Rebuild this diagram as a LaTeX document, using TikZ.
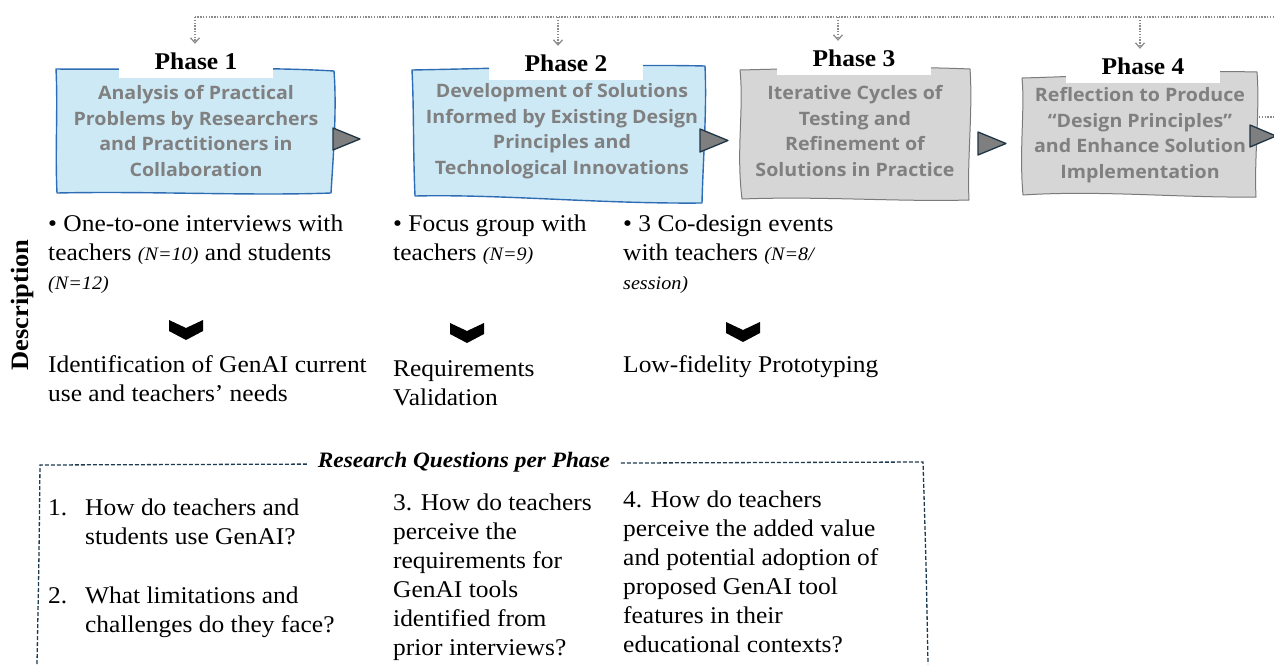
\documentclass[tikz,border=0pt]{standalone}
\usepackage{fontspec}
\setmainfont{Liberation Serif}[FakeStretch=1.06]
\newfontfamily\boxfont{Open Sans}[FakeStretch=1.06]
\usetikzlibrary{arrows.meta}
\definecolor{bluefill}{HTML}{CDE9F6}
\definecolor{blueedge}{HTML}{2E6DB4}
\definecolor{grayfill}{HTML}{D6D6D6}
\definecolor{grayedge}{HTML}{7A7A7A}
\definecolor{boxtext}{HTML}{808080}
\definecolor{trifill}{HTML}{7F7F7F}
\definecolor{triedge}{HTML}{1E3545}
\definecolor{dashcol}{HTML}{1F3B4D}
\definecolor{dotcol}{HTML}{8C8C8C}
\tikzset{
  bluebox/.style={fill=bluefill, draw=blueedge, line width=1.4pt, line join=round},
  graybox/.style={fill=grayfill, draw=grayedge, line width=1pt, line join=round},
  boxtxt/.style={font=\boxfont\bfseries\fontsize{18.5}{25.5}\selectfont, text=boxtext, align=center, inner sep=0pt},
  phaselbl/.style={fill=white, minimum width=154pt, minimum height=34pt, inner sep=0pt, font=\bfseries\fontsize{24}{26}\selectfont},
  desc/.style={font=\fontsize{24}{29}\selectfont, align=left, anchor=base west, inner sep=0pt},
  tri/.style={fill=trifill, draw=triedge, line width=1.3pt, line join=round},
  chev/.style={fill=black},
  dotline/.style={draw=dotcol, line width=1.6pt, dash pattern=on 1.4pt off 1.4pt},
  dotarrow/.style={dotline, -{Straight Barb[length=5pt,width=9pt,line width=1.3pt]}},
  dashbox/.style={draw=dashcol, line width=1.3pt, dash pattern=on 4pt off 2pt},
}
\newcommand\smallit[1]{{\itshape\fontsize{19}{29}\selectfont #1}}
\begin{document}
\begin{tikzpicture}[x=1pt,y=-1pt]
\useasboundingbox (0,0) rectangle (1274,664);

% ---- phase boxes ----
\draw[bluebox] (56,69) .. controls (140,70) and (250,66) .. (334,71) .. controls (337,110) and (333,160) .. (331,193) .. controls (250,196) and (150,191) .. (57,193) .. controls (55,150) and (58,110) .. (56,69) -- cycle;
\draw[bluebox] (412,70) .. controls (520,68) and (620,64) .. (705,66) .. controls (707,110) and (703,160) .. (702,203) .. controls (600,204) and (500,194) .. (415,196) .. controls (413,150) and (414,110) .. (412,70) -- cycle;
\draw[graybox] (740,70) .. controls (820,68) and (900,66) .. (970,69) .. controls (973,110) and (967,160) .. (969,200) .. controls (900,202) and (820,196) .. (742,199) .. controls (736,150) and (744,110) .. (740,70) -- cycle;
\draw[graybox] (1022,78) .. controls (1100,76) and (1180,70) .. (1257,72) .. controls (1260,110) and (1254,160) .. (1256,197) .. controls (1180,198) and (1100,190) .. (1023,195) .. controls (1019,150) and (1025,110) .. (1022,78) -- cycle;

% ---- arrow triangles between boxes ----
\draw[tri] (333,128) -- (360,139) -- (333,150) -- cycle;
\draw[tri] (700,129) -- (728,140.5) -- (700,152) -- cycle;
\draw[tri] (978,132) -- (1006,143.5) -- (978,155) -- cycle;
\draw[tri] (1250,125) -- (1276,136) -- (1250,147) -- cycle;
\draw[dotcol, line width=1.4pt, dash pattern=on 1.4pt off 1.4pt] (1259,117) -- (1274,117);

% ---- phase labels ----
\node[phaselbl] (p1) at (196,61) {Phase 1};
\node[phaselbl] (p2) at (566,63) {Phase 2};
\node[phaselbl] (p3) at (854,58) {Phase 3};
\node[phaselbl] (p4) at (1143,66) {Phase 4};

% ---- box texts ----
\node[boxtxt] (b1) at (196,131) {Analysis of Practical\\Problems by Researchers\\and Practitioners in\\Collaboration};
\node[boxtxt] (b2) at (562,131) {Development of Solutions\\Informed by Existing Design\\Principles and\\Technological Innovations};
\node[boxtxt] (b3) at (855,131) {Iterative Cycles of\\Testing and\\Refinement of\\Solutions in Practice};
\node[boxtxt] (b4) at (1140,135) {Reflection to Produce\\\char"201C Design Principles\char"201D\\and Enhance Solution\\Implementation};

% ---- top dotted feedback line ----
\coordinate (t1) at (195,17);
\coordinate (t2) at (558,17);
\coordinate (t3) at (838,17);
\coordinate (t4) at (1140,17);
\coordinate (tend) at (1274,17);
\draw[dotline] (tend) -- (t1);
\draw[dotarrow] (t1) -- (t1 |- p1.north);
\draw[dotarrow] (t2) -- (t2 |- p2.north);
\draw[dotarrow] (t3) -- (t3 |- p3.north);
\draw[dotarrow] (t4) -- (t4 |- p4.north);

% ---- description ----
\node[rotate=90, font=\bfseries\fontsize{25}{27}\selectfont, inner sep=0pt] (dlabel) at (22,305) {Description};

% (multi-line nodes are placed at the baseline of their last line)
\node[desc] (d1) at (48,289) {\textbullet{} One-to-one interviews with\\teachers \smallit{(N=10)} and students\\\smallit{(N=12)}};
\node[desc] (d2) at (393,260) {\textbullet{} Focus group with\\teachers \smallit{(N=9)}};
\node[desc] (d3) at (623,289) {\textbullet{} 3 Co-design events\\with teachers \smallit{(N=8/}\\\smallit{session)}};

\foreach \n/\cx/\cy in {c1/186/330, c2/467/333, c3/743/332}{
  \fill[chev] (\cx-17,\cy-10) -- (\cx,\cy-2) -- (\cx+17,\cy-10) -- (\cx+17,\cy+1) -- (\cx,\cy+10) -- (\cx-17,\cy+1) -- cycle;
}

\node[desc] (o1) at (48,401) {Identification of GenAI current\\use and teachers\char"2019{} needs};
\node[desc] (o2) at (393,405) {Requirements\\Validation};
\node[desc] (o3) at (623,372) {Low-fidelity Prototyping};

% ---- research questions ----
\draw[dashbox] (37,664) .. controls (39,560) .. (40,465) -- (923,462) .. controls (926,560) .. (928,664);
\node[fill=white, font=\bfseries\itshape\fontsize{22}{24}\selectfont, minimum width=312pt, minimum height=30pt, inner sep=0pt] (rqt) at (464,462) {Research Questions per Phase};

\node[desc] (q1n) at (48,515) {1.};
\node[desc] (q1) at (85,544) {How do teachers and\\students use GenAI?};
\node[desc] (q2n) at (48,603) {2.};
\node[desc] (q2) at (85,632) {What limitations and\\challenges do they face?};
\node[desc] (q3) at (393,655) {3. How do teachers\\perceive the\\requirements for\\GenAI tools\\identified from\\prior interviews?};
\node[desc] (q4) at (623,652) {4. How do teachers\\perceive the added value\\and potential adoption of\\proposed GenAI tool\\features in their\\educational contexts?};
\end{tikzpicture}
\end{document}
